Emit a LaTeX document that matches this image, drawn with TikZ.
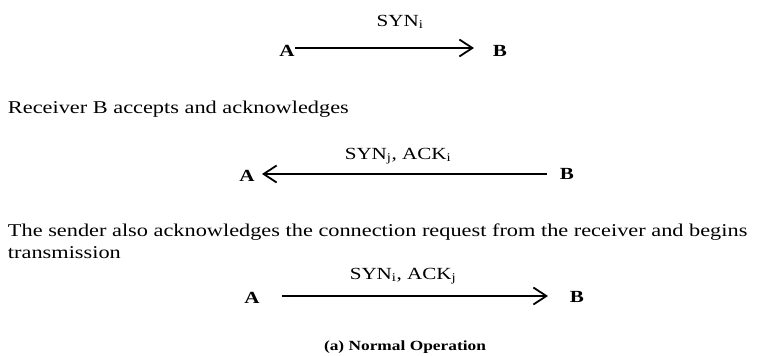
\documentclass[tikz,border=0pt]{standalone}
\usepackage{fontspec}
\setmainfont[FakeStretch=1.24]{Liberation Serif}
\usetikzlibrary{arrows.meta}
\begin{document}
\begin{tikzpicture}[x=1pt,y=-1pt,
  every node/.style={inner sep=0pt,outer sep=0pt},
  lbl/.style={font=\fontsize{17}{20}\selectfont},
  ep/.style={font=\bfseries\fontsize{17}{20}\selectfont,anchor=base},
  txt/.style={font=\fontsize{18}{22}\selectfont,anchor=base west},
  msg/.style={line width=1.8pt,-{Straight Barb[length=13pt,width=17pt,line width=1.8pt]}}]
\useasboundingbox (0,0) rectangle (758,356);
% row 1
\node[ep] (a1) at (287,56) {A};
\node[ep] (b1) at (500,56) {B};
\node[lbl] (l1) at (400,22) {SYN\textsubscript{i}};
\coordinate (s1) at (295,48);
\coordinate (e1) at (474,48);
\draw[msg] (s1) -- (e1);
% text 1
\node[txt] (t1) at (8,113) {Receiver B accepts and acknowledges};
% row 2
\node[ep] (a2) at (247,181) {A};
\node[ep] (b2) at (567,179) {B};
\node[lbl] (l2) at (398,156) {SYN\textsubscript{j}, ACK\textsubscript{i}};
\coordinate (s2) at (547,174);
\coordinate (e2) at (262,174);
\draw[msg] (s2) -- (e2);
% text 2
\node[txt] (t2) at (8,236) {The sender also acknowledges the connection request from the receiver and begins};
\node[txt] (t3) at (8,258) {transmission};
% row 3
\node[ep] (a3) at (252,303) {A};
\node[ep] (b3) at (577,302) {B};
\node[lbl] (l3) at (403,276) {SYN\textsubscript{i}, ACK\textsubscript{j}};
\coordinate (s3) at (282,296);
\coordinate (e3) at (548,296);
\draw[msg] (s3) -- (e3);
% caption
\node[font=\bfseries\fontsize{14}{16}\selectfont,anchor=base] (cap) at (405,350) {(a) Normal Operation};
\end{tikzpicture}
\end{document}
